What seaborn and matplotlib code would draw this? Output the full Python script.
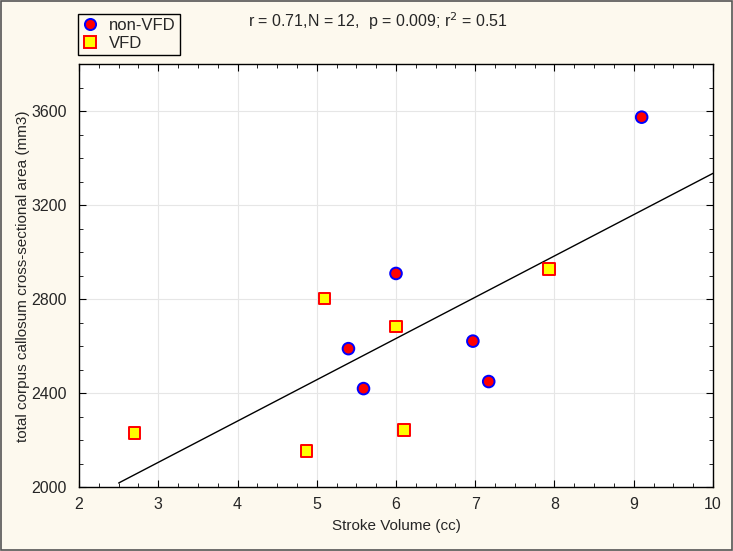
import numpy as np
import pandas as pd
import matplotlib
matplotlib.use("Agg")
import matplotlib.pyplot as plt
from matplotlib.ticker import MultipleLocator
from matplotlib.patches import Rectangle
import seaborn as sns

# data
non_vfd_sv = [9.10, 6.00, 5.40, 5.59, 6.97, 7.17]
non_vfd_cc = [3575, 2910, 2590, 2420, 2622, 2450]
vfd_sv = [2.70, 4.87, 5.10, 6.00, 6.10, 7.93]
vfd_cc = [2232, 2155, 2803, 2685, 2243, 2930]
# fitted line as drawn in the reference
fit_range = [2.5, 10.0]
fit_slope = 175.7
fit_intercept = 1579.0

df = pd.DataFrame({
    "sv": non_vfd_sv + vfd_sv,
    "cc": non_vfd_cc + vfd_cc,
    "group": ["non-VFD"] * len(non_vfd_sv) + ["VFD"] * len(vfd_sv),
})

sns.set_style("ticks")
plt.rcParams["font.family"] = ["Liberation Sans", "DejaVu Sans"]

bg = "#fdf9ee"
fig = plt.figure(figsize=(7.33, 5.51), dpi=100, facecolor=bg)
ax = fig.add_axes([0.1078, 0.1156, 0.8649, 0.7677])
ax.set_facecolor("white")

# regression line
lx = np.array(fit_range)
sns.lineplot(x=lx, y=fit_intercept + fit_slope * lx, color="black", lw=1.0, ax=ax)

sns.scatterplot(data=df, x="sv", y="cc", hue="group", style="group",
                markers={"non-VFD": "o", "VFD": "s"},
                palette={"non-VFD": "red", "VFD": "yellow"},
                s=70, ax=ax, legend=False, zorder=3)
# edge colours per group
pts = ax.collections[-1]
edges = ["blue" if g == "non-VFD" else "red" for g in df["group"]]
pts.set_edgecolors(edges)
pts.set_linewidths(1.4)

ax.set_xlim(2, 10)
ax.set_ylim(2000, 3800)
ax.xaxis.set_major_locator(MultipleLocator(1))
ax.xaxis.set_minor_locator(MultipleLocator(0.25))
ax.yaxis.set_major_locator(MultipleLocator(400))
ax.yaxis.set_minor_locator(MultipleLocator(100))
ax.tick_params(which="both", direction="in", top=True, right=True,
               labelsize=11.5, color="black")
ax.tick_params(which="major", length=5)
ax.tick_params(which="minor", length=3)
ax.tick_params(axis="x", which="major", pad=7)
ax.tick_params(axis="y", which="major", pad=9)
ax.grid(True, which="major", color="#e6e6e6", lw=0.8)
ax.set_axisbelow(True)
for sp in ax.spines.values():
    sp.set_color("black")
    sp.set_linewidth(1.0)

ax.set_xlabel("Stroke Volume (cc)", fontsize=11, labelpad=5)
ax.set_ylabel("total corpus callosum cross-sectional area (mm3)", fontsize=11, labelpad=1)

# legend (outside axes, top-left)
h1 = plt.Line2D([], [], marker="o", ls="", markerfacecolor="red",
                markeredgecolor="blue", markersize=8, markeredgewidth=1.4)
h2 = plt.Line2D([], [], marker="s", ls="", markerfacecolor="yellow",
                markeredgecolor="red", markersize=8, markeredgewidth=1.4)
leg = fig.legend([h1, h2], ["non-VFD", "VFD"], loc="upper left",
                 bbox_to_anchor=(0.1064, 0.9746), borderaxespad=0,
                 fontsize=12, frameon=True,
                 fancybox=False, edgecolor="black", facecolor=bg, framealpha=1,
                 handlelength=1.0, handletextpad=0.6, borderpad=0.25,
                 labelspacing=0.15)
leg.get_frame().set_linewidth(1.0)

fig.text(0.338, 0.962, "r = 0.71,N = 12,  p = 0.009; r$^2$ = 0.51",
         fontsize=11.5, va="center", ha="left")

# outer border
fig.patches.append(Rectangle((0.002, 0.002), 0.996, 0.996, transform=fig.transFigure,
                             fill=False, edgecolor="#555555", lw=1.2))

fig.savefig("out.png", dpi=100, facecolor=bg)
